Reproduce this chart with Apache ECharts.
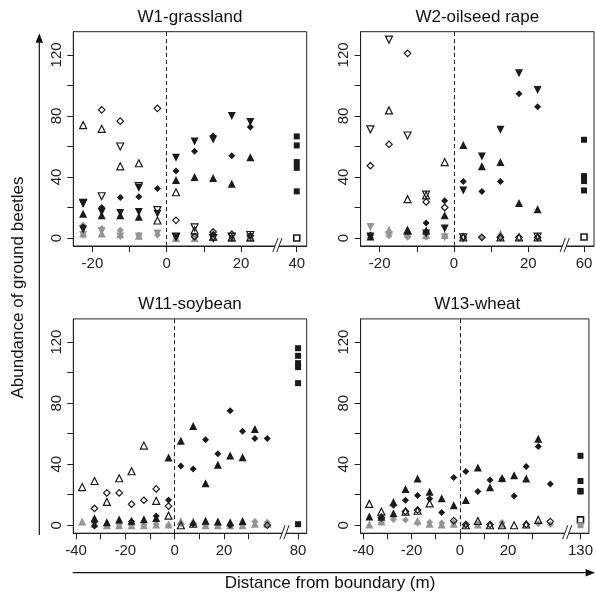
<!DOCTYPE html>
<html><head><meta charset="utf-8">
<script src="https://cdn.jsdelivr.net/npm/echarts@6/dist/echarts.min.js"></script>
<style>html,body{margin:0;padding:0;background:#fff}#c{width:596px;height:599px}</style>
</head><body><div id="c"></div>
<script>
// ---------- labels / ticks ----------
const panelTitles = ['W1-grassland', 'W2-oilseed rape', 'W11-soybean', 'W13-wheat'];
const farTickLabels = ['40', '60', '80', '130'];
const xLabelsTop = [-20, 0, 20];
const xTicksTop = [-20, -10, 0, 10, 20];
const xLabelsBottom = [-40, -20, 0, 20];
const xTicksBottom = [-40, -30, -20, -10, 0, 10, 20, 30];
const yLabels = [0, 40, 80, 120];
const yTicks = [0, 20, 40, 60, 80, 100, 120];
const farPosTop = 35, breakPosTop = 29.8;
const farPosBottom = 50, breakPosBottom = 44.5;

// ---------- W1-grassland ----------
const w1OpenUp = [[-22.5,74],[-17.5,71.6],[-12.5,47],[-7.5,49],[-2.5,11.5],[2.5,30],[7.5,5],[12.5,1],[17.5,0.5],[22.5,0.5]];
const w1OpenDia = [[-17.5,84],[-12.5,76.6],[-2.5,85],[2.5,11.6],[7.5,1],[12.5,4],[17.5,2.5],[22.5,1.5]];
const w1OpenDown = [[-22.5,23],[-17.5,27.4],[-12.5,60],[-7.5,34],[-2.5,18.3],[2.5,1],[7.5,7],[12.5,0],[17.5,1],[22.5,2]];
const w1FillUp = [[-22.5,16],[-17.5,15],[-12.5,15],[-7.5,13.9],[2.5,38],[7.5,40],[12.5,39.3],[17.5,35.6],[22.5,53]];
const w1FillDia = [[-22.5,7.3],[-17.5,20],[-12.5,26.6],[-7.5,27],[-2.5,32.4],[2.5,44],[7.5,56.8],[12.5,66.8],[17.5,54],[22.5,72.7],[12.5,2.5]];
const w1FillDown = [[-22.5,22.5],[-22.5,5.6],[-17.5,17],[-12.5,16.5],[-7.5,33],[-7.5,17],[-2.5,16],[2.5,52.6],[7.5,63.3],[12.5,64.6],[17.5,80],[22.5,76],[2.5,0.5]];
const w1GreyDia = [[-22.5,8.4],[-17.5,6.3],[-12.5,5.2],[-7.5,2],[-2.5,2],[2.5,0.5],[7.5,0.5],[12.5,0],[17.5,0],[22.5,0]];
const w1GreyUp = [[-22.5,3],[-17.5,3],[-12.5,2.5],[-7.5,1.5],[2.5,0],[7.5,0],[12.5,0.5],[17.5,0],[22.5,0]];
const w1GreyDown = [[-22.5,2],[-17.5,4.5],[-12.5,1],[-7.5,1],[-2.5,3],[2.5,0],[7.5,0],[22.5,0.5]];
const w1FarFilled = [66.6, 60.7, 49.8, 46, 30.6];
const w1FarOpen = [0];

// ---------- W2-oilseed rape ----------
const w2OpenUp = [[-17.5,83.6],[-12.5,25.5],[-12.5,5],[-7.5,28],[-2.5,49.8],[2.5,0.5],[12.5,0.5],[17.5,0.5],[22.5,0.5]];
const w2OpenDia = [[-22.5,47.4],[-17.5,61.4],[-12.5,121],[-7.5,23.7],[-2.5,20],[2.5,0.5],[7.5,0.5],[12.5,0.5],[17.5,0.5],[22.5,0.5]];
const w2OpenDown = [[-22.5,71.2],[-17.5,130],[-12.5,67.2],[-7.5,28.5],[2.5,0.5],[22.5,1]];
const w2FillUp = [[-22.5,1],[-12.5,5],[-7.5,5],[-2.5,15],[2.5,61],[7.5,47],[12.5,49.8],[17.5,23],[22.5,18.8]];
const w2FillDia = [[-22.5,2],[-7.5,9.8],[-7.5,4],[-2.5,24.5],[2.5,37],[7.5,30.5],[12.5,37],[17.5,94.5],[22.5,86]];
const w2FillDown = [[-22.5,1],[-7.5,3],[-2.5,6.3],[2.5,31.2],[7.5,53.5],[12.5,71],[17.5,108],[22.5,97]];
const w2GreyDia = [[-22.5,0.5],[-17.5,1.5],[-12.5,0.5],[-7.5,0.5],[-2.5,1],[7.5,0.5],[12.5,0.5]];
const w2GreyUp = [[-17.5,5.5],[-12.5,3],[-7.5,2],[-2.5,2],[12.5,3]];
const w2GreyDown = [[-22.5,7.2],[-17.5,2],[-7.5,1],[-2.5,0.5]];
const w2FarFilled = [64.4, 40.6, 38.9, 37.3, 31.2];
const w2FarOpen = [0.7];

// ---------- W11-soybean ----------
const w11OpenUp = [[-37.5,25],[-32.5,29],[-27.5,15.3],[-22.5,30.8],[-17.5,35.4],[-12.5,52.2],[-7.5,16],[-2.5,6.3],[2.5,0],[7.5,1]];
const w11OpenDia = [[-32.5,11],[-27.5,21.2],[-22.5,21.2],[-17.5,13.8],[-12.5,16.4],[-7.5,23.8],[-2.5,12.5],[37.5,0]];
const w11FillUp = [[-32.5,4.6],[-27.5,2],[-22.5,3.7],[-17.5,3],[-12.5,4],[-7.5,4.8],[-2.5,44.4],[2.5,55.3],[7.5,65.1],[12.5,27.5],[12.5,3],[17.5,39.6],[17.5,2.5],[22.5,45.7],[22.5,2],[27.5,44.6],[27.5,2.8],[32.5,63]];
const w11FillDia = [[-32.5,2.4],[-32.5,-0.5],[-17.5,2.5],[-7.5,6.1],[-2.5,16.6],[2.5,38.9],[7.5,36.9],[7.5,0.8],[12.5,56],[17.5,46.8],[22.5,75],[22.5,0],[27.5,61.6],[32.5,56.8],[37.5,56.8]];
const w11GreyUp = [[-37.5,2.4],[-32.5,1],[-27.5,0],[-22.5,0],[-17.5,0],[-12.5,0],[-7.5,0.5],[-2.5,0.5],[2.5,2.8],[7.5,2.8],[12.5,0],[17.5,0],[22.5,0],[27.5,0],[32.5,1],[37.5,1]];
const w11GreyDia = [[-32.5,1.5],[-27.5,0],[-22.5,0.5],[-17.5,0],[-12.5,0],[-7.5,0.7],[-2.5,0],[2.5,1],[7.5,0.7],[12.5,0],[17.5,0],[22.5,0.5],[27.5,0],[32.5,2.4],[37.5,2]];
const w11FarFilled = [116, 111, 106.2, 103.6, 93.1, 0.7];

// ---------- W13-wheat ----------
const w13OpenUp = [[-37.5,14],[-32.5,9],[-22.5,9],[-17.5,9.5],[-12.5,14.3],[2.5,0],[7.5,2.8],[12.5,0],[17.5,0],[22.5,0],[27.5,0.5],[32.5,3.5]];
const w13OpenDia = [[-32.5,5],[-22.5,9],[-17.5,10],[-2.5,3],[2.5,0.5],[12.5,0.5],[27.5,0.5],[37.5,2.4]];
const w13FillUp = [[-37.5,5.7],[-32.5,5.5],[-27.5,15.3],[-27.5,7.9],[-22.5,23.8],[-17.5,30.6],[-12.5,21.9],[-7.5,17.7],[-2.5,13.1],[2.5,16.6],[7.5,37.8],[12.5,24.9],[17.5,31],[22.5,32.8],[27.5,30.6],[32.5,56.6]];
const w13FillDia = [[-27.5,13.1],[-22.5,16.4],[-17.5,19.5],[-12.5,17.3],[-7.5,8.3],[-2.5,31.3],[2.5,35.2],[7.5,22.1],[12.5,29.7],[17.5,30.2],[22.5,19.2],[27.5,38.5],[32.5,51.6],[37.5,27.1]];
const w13GreyUp = [[-37.5,0.5],[-32.5,2.4],[-17.5,3],[-12.5,1],[-7.5,0.5],[-2.5,1],[7.5,0.5],[17.5,1]];
const w13GreyDia = [[-32.5,2],[-27.5,3.8],[-22.5,3.5],[-17.5,1.5],[-12.5,2],[-7.5,1.5],[-2.5,1.8],[2.5,0],[7.5,1],[17.5,1.8],[32.5,1],[37.5,0.5]];
const w13FarFilled = [45.5, 29, 22.5, 22.1];
const w13FarOpen = [3.5];
const w13FarGrey = [0];

// ---------- styles ----------
const FONT = "'Liberation Sans', Arial, Helvetica, sans-serif";
const BLACK = '#1a1a1a', GREY = '#959595', AXIS = '#222';
const ST = {
  openUp:   {symbol: 'triangle', rot: 0,   size: 7,   fill: 'rgba(0,0,0,0)', stroke: BLACK, bw: 1.2},
  openDown: {symbol: 'triangle', rot: 180, size: 7,   fill: 'rgba(0,0,0,0)', stroke: BLACK, bw: 1.2},
  openDia:  {symbol: 'diamond',  rot: 0,   size: 6.5, fill: 'rgba(0,0,0,0)', stroke: BLACK, bw: 1.2},
  fillUp:   {symbol: 'triangle', rot: 0,   size: 8, fill: BLACK, stroke: null},
  fillDown: {symbol: 'triangle', rot: 180, size: 8, fill: BLACK, stroke: null},
  fillDia:  {symbol: 'diamond',  rot: 0,   size: 7, fill: BLACK, stroke: null},
  greyUp:   {symbol: 'triangle', rot: 0,   size: 8, fill: GREY, stroke: null},
  greyDown: {symbol: 'triangle', rot: 180, size: 8, fill: GREY, stroke: null},
  greyDia:  {symbol: 'diamond',  rot: 0,   size: 7, fill: GREY, stroke: null},
  sqFill:   {symbol: 'rect', rot: 0, size: 6, fill: BLACK, stroke: null},
  sqOpen:   {symbol: 'rect', rot: 0, size: 6, fill: '#fff', stroke: BLACK, bw: 1.6},
  sqGrey:   {symbol: 'rect', rot: 0, size: 6, fill: GREY, stroke: null}
};

const far = (vals, pos) => vals.map(v => [pos, v]);

const panels = [
  {grid: {left: 73.3, top: 31.7}, xmin: -25.14, xmax: 37.68, farPos: farPosTop, brk: breakPosTop,
   xTicks: xTicksTop, xLabels: xLabelsTop, farLabel: farTickLabels[0],
   sets: [['greyDia', w1GreyDia], ['greyUp', w1GreyUp], ['greyDown', w1GreyDown],
          ['openUp', w1OpenUp], ['openDia', w1OpenDia], ['openDown', w1OpenDown],
          ['fillUp', w1FillUp], ['fillDia', w1FillDia], ['fillDown', w1FillDown],
          ['sqFill', far(w1FarFilled, farPosTop)], ['sqOpen', far(w1FarOpen, farPosTop)]]},
  {grid: {left: 360.6, top: 31.7}, xmin: -25.14, xmax: 37.68, farPos: farPosTop, brk: breakPosTop,
   xTicks: xTicksTop, xLabels: xLabelsTop, farLabel: farTickLabels[1],
   sets: [['greyDia', w2GreyDia], ['greyUp', w2GreyUp], ['greyDown', w2GreyDown],
          ['openUp', w2OpenUp], ['openDia', w2OpenDia], ['openDown', w2OpenDown],
          ['fillUp', w2FillUp], ['fillDia', w2FillDia], ['fillDown', w2FillDown],
          ['sqFill', far(w2FarFilled, farPosTop)], ['sqOpen', far(w2FarOpen, farPosTop)]]},
  {grid: {left: 73.3, top: 318.9}, xmin: -41.1, xmax: 53.5, farPos: farPosBottom, brk: breakPosBottom,
   xTicks: xTicksBottom, xLabels: xLabelsBottom, farLabel: farTickLabels[2],
   sets: [['greyDia', w11GreyDia], ['greyUp', w11GreyUp],
          ['openUp', w11OpenUp], ['openDia', w11OpenDia],
          ['fillUp', w11FillUp], ['fillDia', w11FillDia],
          ['sqFill', far(w11FarFilled, farPosBottom)]]},
  {grid: {left: 360.6, top: 318.9}, xmin: -41.1, xmax: 53.5, farPos: farPosBottom, brk: breakPosBottom,
   xTicks: xTicksBottom, xLabels: xLabelsBottom, farLabel: farTickLabels[3],
   sets: [['greyDia', w13GreyDia], ['greyUp', w13GreyUp],
          ['openUp', w13OpenUp], ['openDia', w13OpenDia],
          ['fillUp', w13FillUp], ['fillDia', w13FillDia],
          ['sqFill', far(w13FarFilled, farPosBottom)], ['sqOpen', far(w13FarOpen, farPosBottom)],
          ['sqGrey', far(w13FarGrey, farPosBottom)]]}
];

const W = 233.4, H = 214.3, YMIN = -5.2, YMAX = 135.2;
const grids = [], xAxes = [], yAxes = [], series = [], titles = [];

panels.forEach((p, i) => {
  grids.push({left: p.grid.left, top: p.grid.top, width: W, height: H, show: true,
              borderColor: AXIS, borderWidth: 1, backgroundColor: 'transparent'});
  xAxes.push({type: 'value', gridIndex: i, min: p.xmin, max: p.xmax,
    splitLine: {show: false},
    axisLine: {show: true, onZero: false, lineStyle: {color: AXIS, width: 1}},
    axisTick: {show: true, inside: false, length: 6, lineStyle: {color: AXIS},
               customValues: p.xTicks.concat([p.farPos])},
    axisLabel: {show: true, margin: 10, fontSize: 15, color: '#222', fontFamily: FONT,
                customValues: p.xLabels.concat([p.farPos]),
                formatter: v => (v === p.farPos ? p.farLabel : String(v))}});
  yAxes.push({type: 'value', gridIndex: i, min: YMIN, max: YMAX,
    splitLine: {show: false},
    axisLine: {show: true, onZero: false, lineStyle: {color: AXIS, width: 1}},
    axisTick: {show: true, inside: false, length: 6, lineStyle: {color: AXIS}, customValues: yTicks},
    axisLabel: {show: true, margin: 9, fontSize: 15, color: '#222', fontFamily: FONT, rotate: 90,
                customValues: yLabels, formatter: v => String(v)}});
  titles.push({text: panelTitles[i], left: p.grid.left + W / 2, top: p.grid.top - 23, textAlign: 'center',
               padding: 0, textStyle: {fontSize: 17, fontWeight: 'normal', color: '#111', fontFamily: FONT}});

  p.sets.forEach(([key, data], k) => {
    const s = ST[key];
    const ser = {type: 'scatter', xAxisIndex: i, yAxisIndex: i, data: data,
      symbol: s.symbol, symbolSize: s.size, symbolRotate: s.rot, silent: true,
      itemStyle: {color: s.fill, borderColor: s.stroke || s.fill, borderWidth: s.stroke ? (s.bw || 1) : 0, opacity: 1},
      z: 3 + k};
    if (k === 0) {
      ser.markLine = {symbol: 'none', silent: true, label: {show: false},
        lineStyle: {color: AXIS, type: [4, 3], width: 1}, data: [{xAxis: 0}]};
    }
    series.push(ser);
  });

  // axis break marks "//"
  series.push({type: 'custom', xAxisIndex: i, yAxisIndex: i, data: [[p.brk, YMIN]], z: 20, silent: true,
    renderItem: (params, api) => {
      const c = api.coord([api.value(0), api.value(1)]);
      const x = c[0], y = c[1] - 1, dx = 2.6, dy = 7;
      return {type: 'group', children: [
        {type: 'polygon', shape: {points: [[x - dx - 2, y + dy], [x - 2 + dx, y - dy], [x + 2 + dx, y - dy], [x + 2 - dx, y + dy]]},
         style: {fill: '#fff'}},
        {type: 'line', shape: {x1: x - dx - 2, y1: y + dy, x2: x - 2 + dx, y2: y - dy}, style: {stroke: AXIS, lineWidth: 1}},
        {type: 'line', shape: {x1: x + 2 - dx, y1: y + dy, x2: x + 2 + dx, y2: y - dy}, style: {stroke: AXIS, lineWidth: 1}}
      ]};
    }});
});

const chart = echarts.init(document.getElementById('c'), null, {renderer: 'canvas'});
chart.setOption({
  animation: false,
  backgroundColor: '#fff',
  title: titles,
  grid: grids, xAxis: xAxes, yAxis: yAxes, series: series,
  graphic: [
    {type: 'line', shape: {x1: 39.3, y1: 535, x2: 39.3, y2: 40}, style: {stroke: '#111', lineWidth: 1.2}},
    {type: 'polygon', shape: {points: [[39.3, 33.3], [35.6, 42.7], [43, 42.7]]}, style: {fill: '#111'}},
    {type: 'line', shape: {x1: 72.7, y1: 572.7, x2: 588, y2: 572.7}, style: {stroke: '#111', lineWidth: 1.2}},
    {type: 'polygon', shape: {points: [[595, 572.7], [585.6, 569], [585.6, 576.4]]}, style: {fill: '#111'}},
    {type: 'text', x: 330, y: 583.5, style: {text: 'Distance from boundary (m)', fontSize: 17, fontFamily: FONT,
      fill: '#111', textAlign: 'center', textVerticalAlign: 'middle'}},
    {type: 'text', x: 18, y: 287.5, rotation: Math.PI / 2, style: {text: 'Abundance of ground beetles', fontSize: 17,
      fontFamily: FONT, fill: '#111', textAlign: 'center', textVerticalAlign: 'middle'}}
  ]
});
</script></body></html>
